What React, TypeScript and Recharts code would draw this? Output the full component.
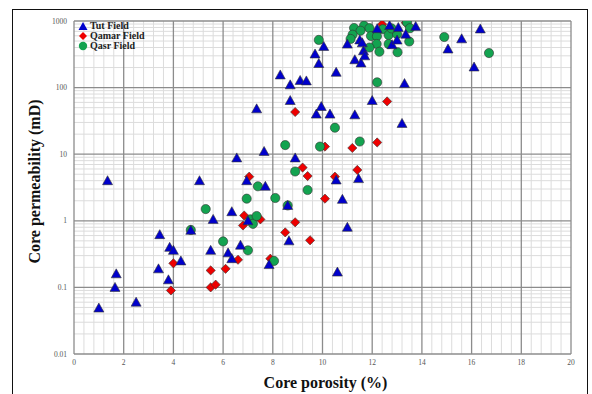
import React from "react";
import {
  ScatterChart,
  Scatter,
  XAxis,
  YAxis,
  ReferenceLine,
  Label,
} from "recharts";

// Tut Field: [porosity %, permeability mD]
const tutPorosity = [1.0, 1.35, 1.65, 1.7, 2.5, 3.4, 3.45, 3.8, 3.85, 4.0, 4.3, 4.7, 5.05, 5.5, 5.6, 6.2, 6.35, 6.35, 6.55, 6.7, 6.95, 7.0, 7.35, 7.65, 7.7, 7.85, 8.3, 8.6, 8.65, 8.7, 8.7, 8.9, 9.1, 9.35, 9.7, 9.75, 9.85, 9.95, 10.05, 10.3, 10.55, 10.55, 10.6, 10.8, 11.0, 11.0, 11.3, 11.3, 11.45, 11.55, 11.5, 11.6, 11.65, 11.7, 12.0, 12.2, 12.7, 12.8, 13.0, 13.05, 13.2, 13.3, 13.35, 13.75, 15.05, 15.6, 16.1, 16.35];
const tutPermeability = [0.049, 4.0, 0.1, 0.16, 0.06, 0.19, 0.62, 0.13, 0.4, 0.36, 0.25, 0.72, 4.0, 0.36, 1.05, 0.33, 0.27, 1.37, 8.8, 0.43, 4.0, 1.0, 48, 11, 3.3, 0.22, 155, 1.7, 0.5, 64, 110, 8.8, 128, 126, 320, 40, 230, 52, 415, 40, 170, 4.1, 0.17, 2.1, 0.8, 450, 39, 262, 4.3, 234, 520, 470, 358, 300, 64, 766, 855, 441, 518, 800, 29, 115, 634, 830, 380, 540, 204, 760];

// Qamar Field
const qamarPorosity = [3.9, 4.0, 5.5, 5.5, 5.7, 6.1, 6.6, 6.8, 6.85, 7.05, 7.5, 7.9, 8.5, 8.9, 8.9, 9.2, 9.4, 9.5, 10.1, 10.1, 10.5, 11.2, 11.4, 12.2, 12.6, 12.4, 13.35];
const qamarPermeability = [0.09, 0.23, 0.1, 0.18, 0.11, 0.19, 0.26, 0.85, 1.2, 4.6, 1.05, 0.27, 0.67, 0.95, 43, 6.3, 4.7, 0.51, 13, 2.15, 4.6, 12.4, 5.8, 15, 62, 895, 944];

// Qasr Field
const qasrPorosity = [4.7, 5.3, 6.0, 6.95, 7.0, 7.1, 7.2, 7.35, 7.4, 8.05, 8.1, 8.5, 8.6, 8.9, 9.4, 9.85, 9.9, 10.5, 11.5, 12.2, 11.27, 11.67, 11.89, 11.53, 11.21, 11.13, 11.95, 12.19, 12.43, 12.66, 13.0, 12.78, 13.4, 13.52, 13.49, 13.02, 12.66, 12.18, 11.89, 12.29, 14.9, 16.7];
const qasrPermeability = [0.73, 1.5, 0.49, 2.15, 0.36, 1.05, 0.9, 1.18, 3.3, 0.25, 2.2, 13.7, 1.7, 5.5, 2.9, 520, 13, 25, 15.5, 120, 785, 850, 780, 715, 623, 538, 596, 590, 753, 616, 634, 774, 953, 780, 492, 340, 452, 452, 400, 346, 575, 330];

const xTicks = [0, 2, 4, 6, 8, 10, 12, 14, 16, 18, 20];
const yTicks = [0.01, 0.1, 1, 10, 100, 1000];
const seriesNames = ["Tut Field", "Qamar Field", "Qasr Field"];

const toPoints = (xs: number[], ys: number[]) => xs.map((x, i) => ({ x, y: ys[i] }));
const tutData = toPoints(tutPorosity, tutPermeability);
const qamarData = toPoints(qamarPorosity, qamarPermeability);
const qasrData = toPoints(qasrPorosity, qasrPermeability);

// minor grid values (every 0.4 on x, 2..9 per decade on y)
const xMinor: number[] = [];
for (let i = 1; i < 50; i++) if (i % 5 !== 0) xMinor.push(Math.round(i * 0.4 * 100) / 100);
const yMinor: number[] = [];
[0.01, 0.1, 1, 10, 100].forEach((d) => {
  for (let k = 2; k <= 9; k++) yMinor.push(Math.round(d * k * 1000) / 1000);
});

const BLUE = "#0000CC";
const RED = "#EE0000";
const GREEN = "#13A350";
const OUTLINE = "#333";
const SERIF = "'Liberation Serif', 'Times New Roman', serif";
const MINOR = "#dcdcdc";
const MAJOR = "#8c8c8c";

const Triangle = (p: any) => {
  const { cx, cy } = p;
  if (cx == null || cy == null) return null;
  return (
    <path
      d={`M${cx},${cy - 5}L${cx + 5},${cy + 4}L${cx - 5},${cy + 4}Z`}
      fill={BLUE}
      stroke={OUTLINE}
      strokeWidth={0.6}
    />
  );
};
const Diamond = (p: any) => {
  const { cx, cy } = p;
  if (cx == null || cy == null) return null;
  return (
    <path
      d={`M${cx},${cy - 4.6}L${cx + 4.6},${cy}L${cx},${cy + 4.6}L${cx - 4.6},${cy}Z`}
      fill={RED}
      stroke={OUTLINE}
      strokeWidth={0.6}
    />
  );
};
const Circle = (p: any) => {
  const { cx, cy } = p;
  if (cx == null || cy == null) return null;
  return <circle cx={cx} cy={cy} r={4.6} fill={GREEN} stroke={OUTLINE} strokeWidth={0.6} />;
};

const LegendBox = () => {
  const icons = [
    <path key="t" d="M5,1L9.5,9L0.5,9Z" fill={BLUE} />,
    <path key="d" d="M5,1L9,5L5,9L1,5Z" fill={RED} />,
    <circle key="c" cx={5} cy={5} r={4.2} fill={GREEN} />,
  ];
  return (
    <div
      style={{
        position: "absolute",
        left: 78,
        top: 21,
        fontFamily: SERIF,
        fontWeight: "bold",
        fontSize: 10,
        color: "#222",
        lineHeight: "10px",
      }}
    >
      {seriesNames.map((n, i) => (
        <div key={n} style={{ display: "flex", alignItems: "center", height: 10 }}>
          <svg width={10} height={10} style={{ marginRight: 2 }}>
            {icons[i]}
          </svg>
          <span>{n}</span>
        </div>
      ))}
    </div>
  );
};

const fmt = (v: number) => String(v);

export default function App() {
  return (
    <div style={{ position: "absolute", left: 0, top: 0, width: 592, height: 394, overflow: "hidden", background: "#fff" }}>
      <div
        style={{
          position: "absolute",
          left: 12,
          top: 9,
          width: 576,
          height: 420,
          border: "1.5px solid #111",
          boxSizing: "border-box",
        }}
      />
      <div style={{ position: "absolute", left: 0, top: 0 }}>
        <ScatterChart width={592} height={394} margin={{ top: 21, right: 21, bottom: 0, left: 0 }}>
          <XAxis
            type="number"
            dataKey="x"
            domain={[0, 20]}
            ticks={xTicks}
            allowDataOverflow
            axisLine={false}
            tickLine={false}
            tickSize={0}
            tickMargin={6}
            height={40}
            tick={{ fontSize: 7.5, fill: "#555", fontFamily: SERIF }}
          >
            <Label
              content={(props: any) => {
                const vb = props.viewBox || {};
                return (
                  <text
                    x={vb.x + vb.width / 2 + 3}
                    y={388}
                    textAnchor="middle"
                    fontFamily={SERIF}
                    fontWeight="bold"
                    fontSize={16}
                    fill="#111"
                  >
                    Core porosity (%)
                  </text>
                );
              }}
            />
          </XAxis>
          <YAxis
            type="number"
            dataKey="y"
            scale="log"
            domain={[0.01, 1000]}
            ticks={yTicks}
            allowDataOverflow
            axisLine={false}
            tickLine={false}
            tickSize={0}
            tickMargin={7}
            width={74}
            tickFormatter={fmt}
            tick={{ fontSize: 7.5, fill: "#555", fontFamily: SERIF }}
          >
            <Label
              content={(props: any) => {
                const vb = props.viewBox || {};
                const cy = vb.y + vb.height / 2 - 6;
                return (
                  <text
                    x={40}
                    y={cy}
                    transform={`rotate(-90 40 ${cy})`}
                    textAnchor="middle"
                    fontFamily={SERIF}
                    fontWeight="bold"
                    fontSize={16}
                    fill="#111"
                  >
                    Core permeability (mD)
                  </text>
                );
              }}
            />
          </YAxis>
          {xMinor.map((v) => (
            <ReferenceLine key={`xm${v}`} x={v} stroke={MINOR} strokeWidth={1} />
          ))}
          {yMinor.map((v) => (
            <ReferenceLine key={`ym${v}`} y={v} stroke={MINOR} strokeWidth={1} />
          ))}
          {xTicks.map((v) => (
            <ReferenceLine key={`xM${v}`} x={v} stroke={MAJOR} strokeWidth={1.3} />
          ))}
          {yTicks.map((v) => (
            <ReferenceLine key={`yM${v}`} y={v} stroke={MAJOR} strokeWidth={1.3} />
          ))}
          <Scatter name={seriesNames[1]} data={qamarData} shape={Diamond} isAnimationActive={false} />
          <Scatter name={seriesNames[2]} data={qasrData} shape={Circle} isAnimationActive={false} />
          <Scatter name={seriesNames[0]} data={tutData} shape={Triangle} isAnimationActive={false} />
        </ScatterChart>
      </div>
      <LegendBox />
    </div>
  );
}
